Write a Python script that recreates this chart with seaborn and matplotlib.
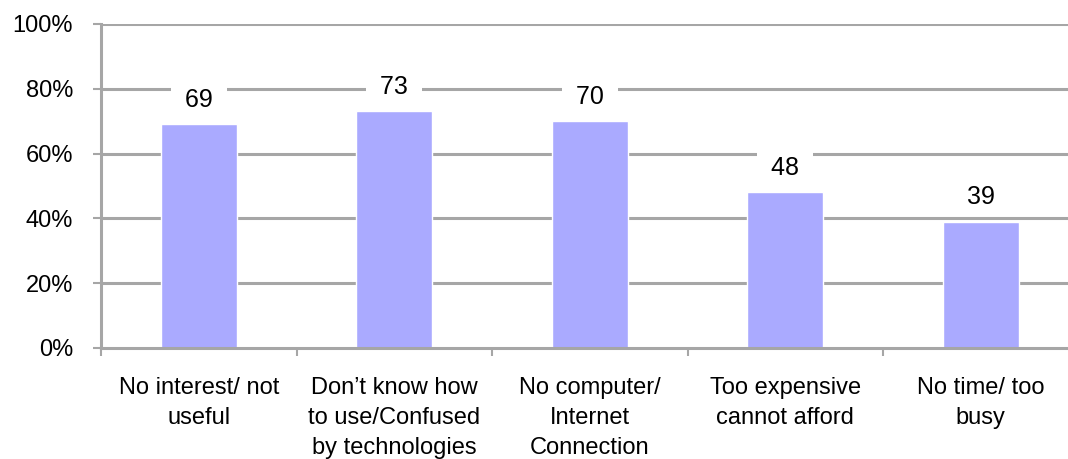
import numpy as np
import pandas as pd
import matplotlib
matplotlib.use("Agg")
import matplotlib.pyplot as plt
import seaborn as sns

categories = [
    "No interest/ not\nuseful",
    "Don\u2019t know how\nto use/Confused\nby technologies",
    "No computer/\nInternet\nConnection",
    "Too expensive\ncannot afford",
    "No time/ too\nbusy",
]
values = [69, 73, 70, 48, 39]
y_ticks = [0, 20, 40, 60, 80, 100]
y_tick_labels = ["0%", "20%", "40%", "60%", "80%", "100%"]

sns.set_theme(style="white")
plt.rcParams["font.family"] = ["Liberation Sans", "DejaVu Sans"]

df = pd.DataFrame({"reason": categories, "share": values})

fig = plt.figure(figsize=(10.68, 4.59), dpi=100)
ax = fig.add_axes([101 / 1068, 111 / 459, 977.5 / 1068, 324 / 459])

grid_color = "#a6a6a6"
for y in y_ticks[1:]:
    ax.axhline(y, color=grid_color, lw=2.2, zorder=0)

sns.barplot(data=df, x="reason", y="share", color="#aaaaff", width=0.39,
            saturation=1, ax=ax, zorder=2)

ax.set_xlim(-0.5, 4.5)
ax.set_ylim(0, 100)
ax.set_xlabel("")
ax.set_ylabel("")

for spine in ["top", "right"]:
    ax.spines[spine].set_visible(False)
for spine in ["left", "bottom"]:
    ax.spines[spine].set_color(grid_color)
    ax.spines[spine].set_linewidth(2.2)

ax.set_yticks(y_ticks)
ax.set_yticklabels(y_tick_labels, fontsize=17, color="black")
ax.tick_params(axis="y", which="major", left=True, length=6, width=1.5,
               color=grid_color, pad=14)

ax.set_xticks(np.arange(-0.5, 5, 1))
ax.set_xticklabels([])
ax.tick_params(axis="x", which="major", bottom=True, length=6, width=1.5,
               color=grid_color, direction="out")
ax.set_xticks(range(len(categories)), minor=True)
ax.set_xticklabels(categories, minor=True, fontsize=17, color="black",
                   linespacing=1.46)
ax.tick_params(axis="x", which="minor", length=0, pad=21)
for lbl in ax.get_xticklabels(minor=True):
    lbl.set_verticalalignment("top")

for i, v in enumerate(values):
    ax.annotate(f" {v} ", xy=(i, v), xytext=(0, 17.5), textcoords="offset points",
                ha="center", va="center", fontsize=18, color="black",
                bbox=dict(boxstyle="square,pad=0.28", fc="white", ec="none"),
                zorder=3)

fig.savefig("out.png", dpi=100, facecolor="white")
